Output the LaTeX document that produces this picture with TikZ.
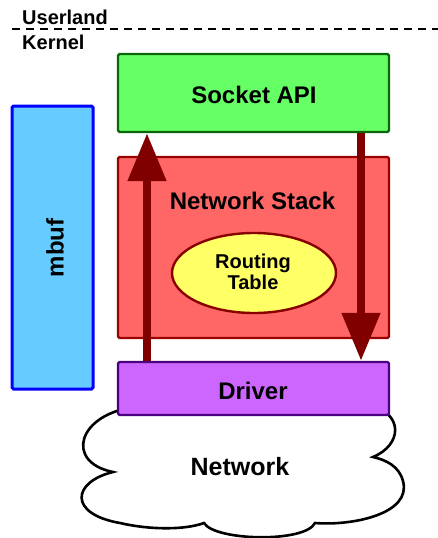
\documentclass[tikz,border=0pt]{standalone}
\usepackage{fontspec}
\setmainfont{Liberation Sans}
\usetikzlibrary{arrows.meta,shapes.geometric}
\definecolor{sockfill}{HTML}{66FF66}
\definecolor{sockdraw}{HTML}{0A660A}
\definecolor{stackfill}{HTML}{FF6666}
\definecolor{stackdraw}{HTML}{990000}
\definecolor{routefill}{HTML}{FFFF66}
\definecolor{routedraw}{HTML}{880000}
\definecolor{drvfill}{HTML}{CC66FF}
\definecolor{drvdraw}{HTML}{4B0082}
\definecolor{mbuffill}{HTML}{66CCFF}
\definecolor{mbufdraw}{HTML}{0000FF}
\definecolor{flowcol}{HTML}{800000}
\tikzset{
  box/.style={draw, line width=2.4pt, rounded corners=1.5pt, inner sep=0pt},
  bigtext/.style={font=\bfseries\fontsize{24}{28}\selectfont, inner sep=0pt},
  midtext/.style={font=\bfseries\fontsize{20}{22}\selectfont, inner sep=0pt},
  flow/.style={draw=flowcol, line width=8pt, -{Triangle[length=48pt,width=37pt]}},
}
\begin{document}
\begin{tikzpicture}[x=1pt,y=-1pt]
\useasboundingbox (0,0) rectangle (438,538);
% Userland / Kernel separator
\coordinate (dl) at (12,29);
\coordinate (dr) at (440,29);
\draw[line width=1.5pt, dash pattern=on 8pt off 6pt] (dl) -- (dr);
\node[midtext, anchor=base west] (user) at (22,24) {Userland};
\node[midtext, anchor=base west] (kern) at (22,49) {Kernel};
% mbuf
\node[box, draw=mbufdraw, fill=mbuffill, line width=3pt, minimum width=81pt, minimum height=283pt] (mbuf) at (52.5,247.5) {};
\node[bigtext, rotate=90] (mbuftext) at (55,248) {mbuf};
% Socket API
\node[box, draw=sockdraw, fill=sockfill, minimum width=271pt, minimum height=78pt] (socket) at (253.5,93) {};
\node[bigtext] (socktext) at (254,95) {Socket API};
% Network stack
\node[box, draw=stackdraw, fill=stackfill, minimum width=271pt, minimum height=181pt] (stack) at (253.5,247.5) {};
\node[bigtext] (stacktext) at (252.5,201) {Network Stack};
\node[ellipse, draw=routedraw, fill=routefill, line width=2.4pt, minimum width=164pt, minimum height=80pt, inner sep=0pt] (route) at (254,273) {};
\node[midtext, align=center] (routetext) at (253,272) {Routing\\[-0.5pt]Table};
% Cloud
\draw[line width=2.6pt, fill=white]
  (135,407) .. controls (78,414) and (64,462) .. (113,472)
  .. controls (72,482) and (68,514) .. (120,523)
  .. controls (150,530) and (185,530) .. (204,523)
  .. controls (215,541) and (305,543) .. (315,523)
  .. controls (352,526) and (412,514) .. (403,481)
  .. controls (399,466) and (386,460) .. (373,457)
  .. controls (402,445) and (404,414) .. (370,405)
  -- cycle;
\node[bigtext, font=\bfseries\fontsize{25}{28}\selectfont] (net) at (240,467) {Network};
% Driver
\node[box, draw=drvdraw, fill=drvfill, minimum width=271pt, minimum height=53pt] (driver) at (253.5,388.5) {};
\node[bigtext] (drvtext) at (253,391) {Driver};
% Flows
\coordinate (lx) at (147,0);
\coordinate (rx) at (361,0);
\draw[flow] (driver.north -| lx) -- (socket.south -| lx);
\draw[flow] (socket.south -| rx) -- (driver.north -| rx);
\end{tikzpicture}
\end{document}
